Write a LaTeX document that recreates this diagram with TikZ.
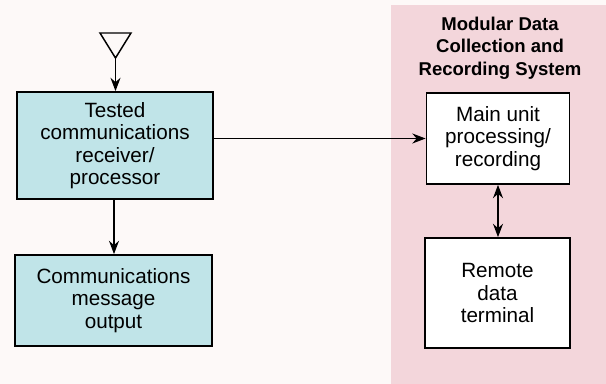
\documentclass[tikz,border=0pt]{standalone}
\usepackage{fontspec}
\setmainfont{Liberation Sans}
\usetikzlibrary{arrows.meta}
\definecolor{bgc}{RGB}{253,249,248}
\definecolor{pinkc}{RGB}{243,214,219}
\definecolor{bluec}{RGB}{192,228,232}
\tikzset{
  blk/.style={draw=black, line width=1.3pt, inner sep=0pt, align=center,
    font=\fontsize{15.5}{16.8}\selectfont},
  bluebox/.style={blk, fill=bluec},
  whitebox/.style={blk, fill=white},
  conn/.style={line width=0.9pt, -{Stealth[length=10pt,width=7.5pt]}},
  dconn/.style={line width=0.9pt, {Stealth[length=10pt,width=7.5pt]}-{Stealth[length=10pt,width=7.5pt]}}
}
\begin{document}
\begin{tikzpicture}[x=0.75pt,y=-0.75pt]
\useasboundingbox (0,0) rectangle (606,384);
\fill[bgc] (0,0) rectangle (606,384);
\fill[pinkc] (391,5) rectangle (606,384);
\node[font=\bfseries\fontsize{13.9}{17}\selectfont, align=center] (title) at (500,48) {Modular Data\\Collection and\\Recording System};
\node[bluebox, minimum width=196*0.75pt, minimum height=107*0.75pt] (rx) at (115,145.5) {Tested\\communications\\receiver/\\processor};
\node[bluebox, minimum width=197*0.75pt, minimum height=91*0.75pt] (out) at (113.5,300.5) {Communications\\message\\output};
\node[whitebox, minimum width=143*0.75pt, minimum height=91*0.75pt] (main) at (498,138.5) {Main unit\\processing/\\recording};
\node[whitebox, minimum width=145*0.75pt, minimum height=110*0.75pt] (rem) at (497.5,293) {Remote\\data\\terminal};
\coordinate (apex) at (115.5,58);
\draw[line width=1.1pt, line join=miter] (100,33) -- (131,33) -- (apex) -- cycle;
\draw[conn] (apex) -- (rx.north -| apex);
\draw[conn] (rx.south -| 114,0) -- (out.north -| 114,0);
\draw[conn] (rx.east |- 0,138.5) -- (main.west);
\draw[dconn] (main.south) -- (rem.north -| main.south);
\end{tikzpicture}
\end{document}
